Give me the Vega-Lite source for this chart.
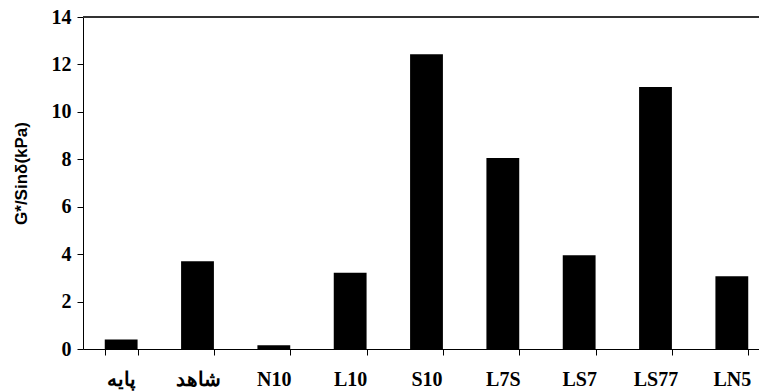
{
  "$schema": "https://vega.github.io/schema/vega-lite/v6.json",
  "width": 676,
  "height": 332,
  "autosize": {"type": "none"},
  "padding": {"left": 83, "top": 17, "right": 0, "bottom": 42},
  "background": "white",
  "config": {"view": {"stroke": null}},
  "data": {
    "values": [
      {"sample": "پایه", "value": 0.4},
      {"sample": "شاهد", "value": 3.7},
      {"sample": "N10", "value": 0.16},
      {"sample": "L10", "value": 3.22},
      {"sample": "S10", "value": 12.43},
      {"sample": "L7S", "value": 8.05},
      {"sample": "LS7", "value": 3.95},
      {"sample": "LS77", "value": 11.05},
      {"sample": "LN5", "value": 3.07}
    ]
  },
  "layer": [
    {
      "mark": {"type": "bar", "color": "black"},
      "encoding": {
        "x": {
          "field": "sample",
          "type": "nominal",
          "sort": null,
          "scale": {"range": [0, 687], "paddingInner": 0.57, "paddingOuter": 0.285},
          "axis": {
            "title": null,
            "labelAngle": 0,
            "labelFont": "Times New Roman",
            "labelFontWeight": "bold",
            "labelFontSize": 20,
            "labelColor": "black",
            "labelPadding": 14,
            "tickBand": "extent",
            "tickSize": 6,
            "tickColor": "black",
            "domainColor": "black",
            "grid": false
          }
        },
        "y": {
          "field": "value",
          "type": "quantitative",
          "scale": {"domain": [0, 14], "nice": false, "zero": true},
          "axis": {
            "title": "G*/Sinδ(kPa)",
            "titleFont": "Liberation Sans",
            "titleFontSize": 17,
            "titleFontWeight": "bold",
            "titleColor": "black",
            "titlePadding": 21,
            "titleY": 156,
            "values": [0, 2, 4, 6, 8, 10, 12, 14],
            "labelFont": "Times New Roman",
            "labelFontWeight": "bold",
            "labelFontSize": 20,
            "labelColor": "black",
            "labelPadding": 6,
            "tickSize": 6,
            "tickColor": "black",
            "domainColor": "black",
            "grid": false
          }
        }
      }
    },
    {
      "mark": {"type": "rule", "color": "#333333", "strokeWidth": 1.5},
      "encoding": {"y": {"datum": 14}}
    }
  ]
}
